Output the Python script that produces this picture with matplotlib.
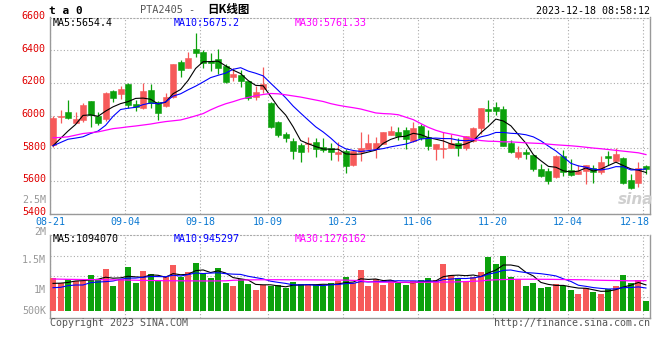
import numpy as np
import pandas as pd
import matplotlib
matplotlib.use("Agg")
import matplotlib.pyplot as plt
import matplotlib.transforms as mtransforms

# ---------------- data ----------------
dates = ["08-21", "09-04", "09-18", "10-09", "10-23", "11-06", "11-20", "12-04", "12-18"]
date_index = [0, 10, 20, 29, 39, 49, 59, 69, 79]

opens = [5820, 5990, 6020, 5955, 5972, 6088, 5996, 5976, 6149, 6131, 6196, 6070, 6047, 6155, 6080, 6059, 6114, 6327, 6292, 6406,
         6388, 6333, 6345, 6304, 6237, 6247, 6210, 6114, 6165, 6078, 5962, 5890, 5843, 5819, 5825, 5839, 5808, 5802, 5764, 5782,
         5696, 5774, 5798, 5798, 5825, 5884, 5900, 5910, 5843, 5935, 5870, 5798, 5798, 5802, 5829, 5802, 5843, 5921, 6039, 6051,
         6039, 5833, 5747, 5778, 5757, 5672, 5660, 5621, 5751, 5666, 5645, 5660, 5676, 5655, 5751, 5721, 5743, 5604, 5590, 5692]
closes = [5985, 5998, 5982, 5976, 6063, 6002, 5955, 6139, 6108, 6161, 6063, 6053, 6149, 6074, 6017, 6114, 6314, 6278, 6353, 6382,
          6319, 6320, 6292, 6206, 6253, 6212, 6108, 6145, 6192, 5931, 5884, 5864, 5782, 5774, 5833, 5798, 5790, 5774, 5774, 5692,
          5782, 5802, 5833, 5833, 5900, 5904, 5876, 5855, 5921, 5860, 5815, 5825, 5802, 5829, 5802, 5874, 5921, 6047, 6025, 6025,
          5815, 5774, 5778, 5764, 5672, 5631, 5600, 5751, 5655, 5635, 5660, 5696, 5655, 5717, 5742, 5764, 5588, 5557, 5676, 5674]
highs = [6000, 6033, 6094, 6023, 6075, 6090, 6023, 6145, 6155, 6180, 6198, 6094, 6200, 6192, 6088, 6135, 6318, 6339, 6390, 6508,
         6404, 6380, 6410, 6318, 6288, 6278, 6212, 6182, 6298, 6080, 5965, 5900, 5864, 5829, 5870, 5860, 5864, 5829, 5839, 5798,
         5788, 5900, 5890, 5870, 5902, 5935, 5931, 5931, 5962, 5951, 5910, 5827, 5900, 5890, 5860, 5876, 5931, 6049, 6098, 6084,
         6060, 5849, 5813, 5798, 5760, 5706, 5682, 5757, 5788, 5737, 5696, 5700, 5696, 5753, 5782, 5802, 5745, 5645, 5717, 5700]
lows = [5810, 5957, 5978, 5952, 5960, 5931, 5941, 5965, 6084, 6104, 6047, 6027, 6040, 6047, 5972, 6055, 6108, 6237, 6288, 6359,
        6288, 6272, 6257, 6200, 6212, 6176, 6094, 6094, 6141, 5921, 5870, 5839, 5737, 5717, 5778, 5747, 5778, 5727, 5723, 5651,
        5694, 5723, 5794, 5741, 5823, 5880, 5849, 5798, 5839, 5849, 5788, 5727, 5741, 5800, 5753, 5788, 5839, 5890, 5962, 6002,
        5812, 5770, 5737, 5733, 5660, 5625, 5580, 5615, 5631, 5631, 5640, 5580, 5588, 5640, 5700, 5719, 5580, 5553, 5564, 5640]

# moving averages before enough days are on the chart
ma5_head = [5815, 5860, 5905, 5945]
ma10_head = [5815, 5835, 5855, 5862, 5870, 5890, 5905, 5940, 5995]
ma30 = [5864, 5866, 5870, 5880, 5890, 5895, 5900, 5910, 5920, 5925, 5931, 5936, 5942, 5948, 5956, 5963, 5968, 5973, 5985, 5998,
        6012, 6035, 6055, 6072, 6085, 6100, 6111, 6121, 6129, 6135, 6133, 6127, 6120, 6113, 6104, 6095, 6086, 6073, 6063, 6055,
        6048, 6040, 6028, 6016, 6012, 6010, 6005, 5990, 5975, 5951, 5928, 5910, 5896, 5887, 5878, 5867, 5855, 5847, 5843, 5842,
        5839, 5839, 5836, 5833, 5831, 5829, 5825, 5821, 5818, 5815, 5811, 5806, 5801, 5797, 5792, 5787, 5782, 5777, 5772, 5761.33]

volumes = [1372000, 1162000, 1330000, 1260000, 1260000, 1512000, 1302000, 1764000, 1050000, 1330000,
           1848000, 1176000, 1680000, 1554000, 1246000, 1442000, 1932000, 1442000, 1638000, 2016000,
           1596000, 1386000, 1806000, 1176000, 1050000, 1330000, 1148000, 882000, 1092000, 1050000,
           1106000, 952000, 1218000, 1134000, 1134000, 1092000, 1036000, 1176000, 1246000, 1428000,
           1190000, 1722000, 1050000, 1330000, 1092000, 1302000, 1190000, 1092000, 1260000, 1302000,
           1372000, 1302000, 1974000, 1512000, 1372000, 1260000, 1442000, 1638000, 2282000, 1974000,
           2324000, 1442000, 1344000, 1050000, 1190000, 980000, 1022000, 1134000, 1050000, 882000,
           728000, 980000, 812000, 728000, 924000, 1050000, 1526000, 1190000, 1302000, 420000]
vol_ma5_head = [1160000, 1170000, 1200000, 1260000]
vol_ma10_head = [980000, 994000, 1064000, 1092000, 1092000, 1190000, 1218000, 1232000, 1260000]
vol_ma30 = [v * 1000 for v in [
    1344, 1338, 1330, 1326, 1322, 1318, 1316, 1312, 1310, 1306, 1300, 1294,
    1286, 1280, 1276, 1272, 1270, 1268, 1266, 1264, 1262, 1262, 1264, 1268,
    1290, 1300, 1306, 1310, 1312, 1314, 1314, 1312, 1310, 1310, 1308, 1306, 1304, 1302, 1300, 1296,
    1284, 1276, 1228, 1214, 1210, 1208, 1206, 1206, 1206, 1208, 1210, 1212, 1214, 1218, 1224, 1236, 1248, 1262,
    1296, 1310, 1322, 1328, 1332, 1334, 1334, 1332, 1330, 1326, 1322, 1318, 1314, 1310,
    1296, 1290, 1284, 1280, 1274, 1268, 1270, 1276]]

price_ticks = [5400, 5600, 5800, 6000, 6200, 6400, 6600]

# ---------------- derived ----------------
c = pd.Series(closes, dtype=float)
ma5 = c.rolling(5).mean().to_numpy()
ma5[:len(ma5_head)] = ma5_head
ma10 = c.rolling(10).mean().to_numpy()
ma10[:len(ma10_head)] = ma10_head
v = pd.Series(volumes, dtype=float)
vma5 = v.rolling(5).mean().to_numpy()
vma5[:len(vol_ma5_head)] = vol_ma5_head
vma10 = v.rolling(10).mean().to_numpy()
vma10[:len(vol_ma10_head)] = vol_ma10_head

n = len(closes)
x = np.arange(n)
up = np.array(closes) >= np.array(opens)
RED = "#f65a5a"
GREEN = "#0ca10c"
cols = np.where(up, RED, GREEN)

MONO = "DejaVu Sans Mono"
FS = 7.2
GRID = "#aaaaaa"
SPINE = "#999999"

W, H = 660, 360
fig = plt.figure(figsize=(6.6, 3.6), dpi=100)
fig.patch.set_facecolor("white")


def fx(px):
    return px / W


def fy(py):
    return 1 - py / H


XMAX = 79.94
ax = fig.add_axes([fx(50), fy(213.6), fx(600), (213.6 - 17.5) / H])
vax = fig.add_axes([fx(50), fy(317.7), fx(600), (317.7 - 235) / H])

# ---------- price panel ----------
body_lo = np.minimum(opens, closes)
body_h = np.maximum(np.abs(np.array(closes) - np.array(opens)), 4)
ax.vlines(x + 0.4, lows, highs, colors=cols, linewidth=0.9, zorder=3)
ax.bar(x, body_h, bottom=body_lo, width=0.8, align="edge", color=cols,
       edgecolor=cols, linewidth=0.4, zorder=4)
ax.plot(x + 0.4, ma5, color="black", linewidth=0.8, zorder=5)
ax.plot(x + 0.4, ma10, color="#0000ff", linewidth=0.8, zorder=5)
ax.plot(x + 0.4, ma30, color="#ff00ff", linewidth=0.9, zorder=5)

ax.set_xlim(0, XMAX)
ax.set_ylim(5400, 6600)
ax.set_yticks(price_ticks)
ax.set_yticklabels([str(t) for t in price_ticks], color="#e00000",
                   fontsize=FS, family=MONO)
ax.tick_params(axis="y", length=0, pad=3)
shift_up = mtransforms.ScaledTranslation(0, 1.8 / 72, fig.dpi_scale_trans)
for lab in ax.get_yticklabels():
    lab.set_transform(lab.get_transform() + shift_up)
ax.set_xticks(date_index)
ax.set_xticklabels(dates, color="#0a78d2", fontsize=FS, family=MONO)
ax.tick_params(axis="x", length=0, pad=2.2)
xl = ax.get_xticklabels()
xl[-1].set_horizontalalignment("right")
xl[-1].set_transform(xl[-1].get_transform() +
                     mtransforms.ScaledTranslation(7 / 100, 0, fig.dpi_scale_trans))
ax.grid(True, color=GRID, linestyle=(0, (1, 2)), linewidth=0.8, zorder=0)
for s in ["left", "right", "bottom"]:
    ax.spines[s].set_color(SPINE)
    ax.spines[s].set_linewidth(1.0)
ax.spines["top"].set_color(GRID)
ax.spines["top"].set_linestyle((0, (1, 2)))
ax.set_axisbelow(True)

# ---------- volume panel ----------
vax.bar(x, volumes, width=0.8, align="edge", color=cols, linewidth=0, zorder=3)
vax.plot(x + 0.4, vma5, color="black", linewidth=0.8, zorder=5)
vax.plot(x + 0.4, vma10, color="#0000ff", linewidth=0.8, zorder=5)
vax.plot(x + 0.4, vol_ma30, color="#ff00ff", linewidth=0.9, zorder=5)
vlo, vhi = -281000, 3192000
vax.set_xlim(0, XMAX)
vax.set_ylim(vlo, vhi)
vax.set_yticks(np.linspace(vlo, vhi, 5)[1:-1])
vax.set_yticklabels([])
vax.set_xticks(date_index)
vax.set_xticklabels([])
vax.tick_params(length=0)
vax.grid(True, color=GRID, linestyle=(0, (1, 2)), linewidth=0.8, zorder=0)
for s in ["left", "right", "bottom"]:
    vax.spines[s].set_color(SPINE)
    vax.spines[s].set_linewidth(1.0)
vax.spines["top"].set_color(GRID)
vax.spines["top"].set_linestyle((0, (1, 2)))
vax.set_axisbelow(True)

# ---------- texts ----------
fig.text(fx(49), fy(11.5), "t a 0", fontsize=8, family=MONO, weight="bold",
         color="black", va="center", ha="left")
fig.text(fx(140), fy(10), "PTA2405 -", fontsize=7.4, family=MONO,
         color="#555555", va="center", ha="left")
fig.text(fx(207), fy(10), "日K线图", fontsize=8.3, family=["Noto Sans CJK SC", "DejaVu Sans"],
         weight="bold", color="black", va="center", ha="left")
fig.text(fx(650), fy(11.5), "2023-12-18 08:58:12", fontsize=FS, family=MONO,
         color="black", va="center", ha="right")

fig.text(fx(53), fy(23.5), "MA5:5654.4", fontsize=FS, family=MONO, color="black", va="center")
fig.text(fx(174), fy(23.5), "MA10:5675.2", fontsize=FS, family=MONO, color="#0000ff", va="center")
fig.text(fx(295), fy(23.5), "MA30:5761.33", fontsize=FS, family=MONO, color="#ff00ff", va="center")

fig.text(fx(53), fy(238.5), "MA5:1094070", fontsize=FS, family=MONO, color="black", va="center")
fig.text(fx(174), fy(238.5), "MA10:945297", fontsize=FS, family=MONO, color="#0000ff", va="center")
fig.text(fx(295), fy(238.5), "MA30:1276162", fontsize=FS, family=MONO, color="#ff00ff", va="center")

for lab, py in [("2.5M", 200), ("2M", 232), ("1.5M", 260), ("1M", 290), ("500K", 311)]:
    fig.text(fx(46), fy(py), lab, fontsize=FS, family=MONO, color="#999999",
             va="center", ha="right")

fig.text(fx(50), fy(323.5), "Copyright 2023 SINA.COM", fontsize=FS, family=MONO,
         color="#555555", va="center", ha="left")
fig.text(fx(650), fy(323.5), "http://finance.sina.com.cn", fontsize=FS, family=MONO,
         color="#555555", va="center", ha="right")

# sina watermark
fig.text(fx(636), fy(200), "sina", fontsize=11, family="DejaVu Sans", weight="bold",
         style="italic", color="#cfcfcf", va="center", ha="center", zorder=1)

fig.savefig("out.png", dpi=100, facecolor="white")
